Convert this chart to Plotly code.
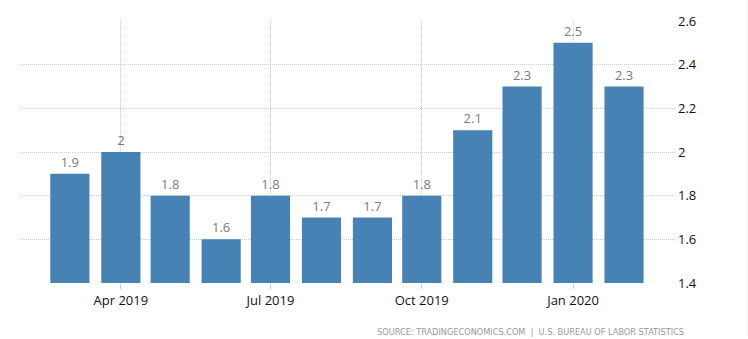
import plotly.graph_objects as go

months = ["2019-03-01", "2019-04-01", "2019-05-01", "2019-06-01", "2019-07-01", "2019-08-01",
          "2019-09-01", "2019-10-01", "2019-11-01", "2019-12-01", "2020-01-01", "2020-02-01"]
values = [1.9, 2.0, 1.8, 1.6, 1.8, 1.7, 1.7, 1.8, 2.1, 2.3, 2.5, 2.3]
labels = ["1.9", "2", "1.8", "1.6", "1.8", "1.7", "1.7", "1.8", "2.1", "2.3", "2.5", "2.3"]
tick_vals = ["2019-04-01", "2019-07-01", "2019-10-01", "2020-01-01"]
tick_text = ["Apr 2019", "Jul 2019", "Oct 2019", "Jan 2020"]
y_ticks = [1.4, 1.6, 1.8, 2.0, 2.2, 2.4, 2.6]
y_text = ["1.4", "1.6", "1.8", "2", "2.2", "2.4", "2.6"]
source = "SOURCE: TRADINGECONOMICS.COM  |  U.S. BUREAU OF LABOR STATISTICS"
base = 1.4

day_ms = 86400000
fig = go.Figure(go.Bar(
    x=months, y=[v - base for v in values], base=base, width=[23.8 * day_ms] * len(values),
    marker=dict(color="#4682B4", line=dict(width=0)),
    text=labels, textposition="outside", cliponaxis=False,
    textfont=dict(color="#7a7a7a", size=13, family="Open Sans"),
))

fig.update_layout(
    width=748, height=339,
    margin=dict(l=20, r=73, t=19, b=56),
    paper_bgcolor="white", plot_bgcolor="white",
    showlegend=False,
    font=dict(family="Open Sans", size=13, color="#222"),
    xaxis=dict(
        type="date", range=["2019-01-29 16:00", "2020-03-03"],
        tickvals=tick_vals, ticktext=tick_text,
        showgrid=True, gridcolor="#cccccc", griddash="1px,1px", gridwidth=1,
        ticks="outside", ticklen=5, tickcolor="#ccc",
        showline=False, zeroline=False,
        tickfont=dict(size=13, color="#111"),
    ),
    yaxis=dict(
        range=[1.4, 2.6], side="right",
        tickvals=y_ticks, ticktext=y_text,
        showgrid=True, gridcolor="#cccccc", griddash="1px,1px", gridwidth=1,
        zeroline=False, showline=False, ticks="", ticklabelstandoff=2,
        tickfont=dict(size=13, color="#111"),
    ),
    shapes=[dict(type="line", xref="paper", yref="paper", x0=1.11, x1=1.11, y0=-0.2, y1=1.1,
                 line=dict(color="#eeeeee", width=1))],
    annotations=[dict(text=source, xref="paper", yref="paper", x=1.017, y=-0.16,
                      xanchor="right", yanchor="top", showarrow=False,
                      font=dict(family="DejaVu Sans", size=8.2, color="#999"))],
)
fig.write_html("out.html")
